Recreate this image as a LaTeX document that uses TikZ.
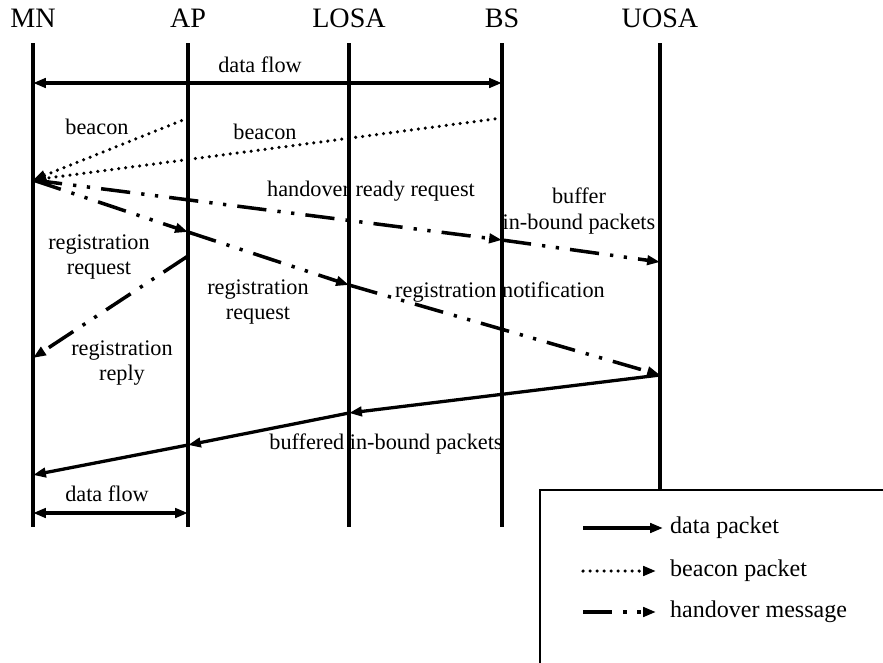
\documentclass[tikz,border=0pt]{standalone}
\usepackage{fontspec}
\setmainfont{Liberation Serif}
\usetikzlibrary{arrows.meta,positioning}

\tikzset{
  head/.style={font=\fontsize{24}{26}\selectfont, inner sep=0pt},
  lbl/.style={font=\fontsize{19}{21.5}\selectfont, align=center, inner sep=0pt},
  legtext/.style={font=\fontsize{20.5}{23}\selectfont, inner sep=0pt, anchor=west},
  life/.style={line width=2.8pt},
  tip/.style={-{Triangle[length=11pt,width=8pt]}},
  twotips/.style={line width=3pt, {Triangle[length=11pt,width=8pt]}-{Triangle[length=11pt,width=8pt]}},
  datamsg/.style={line width=2.8pt, tip},
  beaconmsg/.style={line width=3pt, line cap=round, dash pattern=on 0pt off 6pt, tip},
  homsg/.style={line width=3pt, dash pattern=on 25pt off 9.5pt on 2.8pt off 9pt on 2.8pt off 9.5pt, tip},
}

\begin{document}
\begin{tikzpicture}[x=0.03cm, y=-0.03cm]
  \useasboundingbox (0,0) rectangle (883,662);

  % lifelines
  \foreach \n/\x/\t/\e in {mn/33/MN/527, ap/188/AP/527, losa/349/LOSA/527, bs/502/BS/527, uosa/660/UOSA/490} {
    \node[head] (\n) at (\x,18) {\t};
    \coordinate (\n-top) at (\x,43);
    \coordinate (\n-end) at (\x,\e);
    \draw[life] (\n-top) -- (\n-end);
  }

  % points on the lifelines
  \coordinate (mn-df) at (33,83);
  \coordinate (bs-df) at (502,83);
  \coordinate (ap-bc) at (188,118);
  \coordinate (bs-bc) at (502,118);
  \coordinate (mn-ho) at (33,180);
  \coordinate (bs-ho) at (502,240);
  \coordinate (uosa-ho) at (660,262);
  \coordinate (ap-rq) at (188,232);
  \coordinate (losa-rq) at (349,285);
  \coordinate (uosa-rn) at (660,375);
  \coordinate (ap-rp) at (188,256);
  \coordinate (mn-rp) at (33,358);
  \coordinate (losa-bf) at (349,413);
  \coordinate (ap-bf) at (188,445);
  \coordinate (mn-bf) at (33,475);
  \coordinate (mn-df2) at (33,513);
  \coordinate (ap-df2) at (188,513);

  % data flow
  \draw[twotips] (mn-df) -- (bs-df);
  \draw[twotips] (mn-df2) -- (ap-df2);

  % beacons
  \draw[beaconmsg] (ap-bc) -- (mn-ho);
  \draw[beaconmsg] (bs-bc) -- (mn-ho);

  % handover messages
  \draw[homsg] (mn-ho) -- (bs-ho);
  \draw[homsg] (bs-ho) -- (uosa-ho);
  \draw[homsg] (mn-ho) -- (ap-rq);
  \draw[homsg] (ap-rq) -- (losa-rq);
  \draw[homsg] (losa-rq) -- (uosa-rn);
  \draw[homsg] (ap-rp) -- (mn-rp);

  % buffered packets
  \draw[datamsg] (uosa-rn) -- (losa-bf);
  \draw[datamsg] (losa-bf) -- (ap-bf);
  \draw[datamsg] (ap-bf) -- (mn-bf);

  % labels
  \node[lbl] (df-top) at (260,65) {data flow};
  \node[lbl] (bc-ap) at (97,127) {beacon};
  \node[lbl] (bc-bs) at (265,132) {beacon};
  \node[lbl] (ho-lbl) at (371,191) {handover ready request};
  \node[lbl] (buf-lbl) at (579,211) {buffer\\in-bound packets};
  \node[lbl] (rq-lbl) at (99,257) {registration\\request};
  \node[lbl] (rq2-lbl) at (258,302) {registration\\request};
  \node[lbl] (rn-lbl) at (500,292) {registration notification};
  \node[lbl] (rp-lbl) at (122,363) {registration\\reply};
  \node[lbl] (bf-lbl) at (386,444) {buffered in-bound packets};
  \node[lbl] (df-bot) at (107,494) {data flow};

  % legend
  \draw[line width=2.4pt] (540,490) rectangle (895,675);
  \coordinate (leg-d1) at (583,528);
  \coordinate (leg-d2) at (663,528);
  \coordinate (leg-b1) at (583,571);
  \coordinate (leg-b2) at (656,571);
  \coordinate (leg-h1) at (583,612);
  \coordinate (leg-h2) at (656,612);
  \draw[datamsg] (leg-d1) -- (leg-d2);
  \draw[beaconmsg] (leg-b1) -- (leg-b2);
  \draw[homsg] (leg-h1) -- (leg-h2);
  \node[legtext] (leg-data) at (670,528) {data packet};
  \node[legtext] (leg-beacon) at (670,571) {beacon packet};
  \node[legtext] (leg-ho) at (670,612) {handover message};
\end{tikzpicture}
\end{document}
